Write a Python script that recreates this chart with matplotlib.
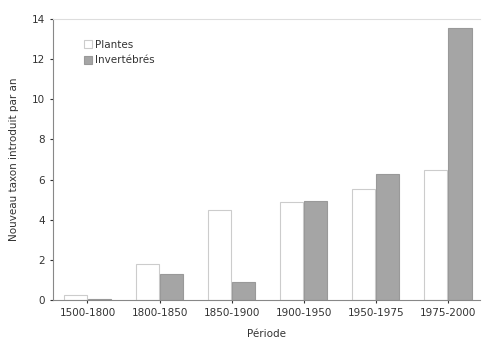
import matplotlib
matplotlib.use('Agg')
import matplotlib.pyplot as plt
import numpy as np

periodes = ['1500-1800', '1800-1850', '1850-1900', '1900-1950', '1950-1975', '1975-2000']
plantes = [0.25, 1.8, 4.5, 4.9, 5.55, 6.5]
invertebres = [0.05, 1.3, 0.9, 4.95, 6.3, 13.55]

plt.rcParams['font.family'] = ['DejaVu Sans']

fig = plt.figure(figsize=(4.85, 3.43), dpi=100)
ax = fig.add_axes([0.109, 0.1254, 0.881, 0.8192])

x = np.arange(len(periodes))
w = 0.32
ax.bar(x - w / 2 - 0.01, plantes, w, facecolor='white', edgecolor='#cccccc',
       linewidth=0.8, label='Plantes')
ax.bar(x + w / 2 + 0.01, invertebres, w, facecolor='#a5a5a5', edgecolor='#999999',
       linewidth=0.8, label='Invertébrés')

ax.set_xlim(-0.48, 5.45)
ax.set_ylim(0, 14)
ax.set_yticks(range(0, 15, 2))
ax.set_xticks(x)
ax.set_xticklabels(periodes)
ax.tick_params(labelsize=7.5, colors='#333333', length=2)

ax.spines['right'].set_visible(False)
ax.spines['top'].set_color('#dddddd')
ax.spines['left'].set_color('#888888')
ax.spines['bottom'].set_color('#888888')

ax.set_xlabel('Période', fontsize=7.5, color='#333333', labelpad=8)
ax.set_ylabel('Nouveau taxon introduit par an', fontsize=7.5, color='#333333', labelpad=9)

ax.legend(loc='upper left', bbox_to_anchor=(0.05, 0.96), frameon=False, fontsize=7.5,
          handlelength=0.8, handleheight=0.8, handletextpad=0.3, labelspacing=0.55,
          labelcolor='#333333')

fig.savefig('out.png', dpi=100)
